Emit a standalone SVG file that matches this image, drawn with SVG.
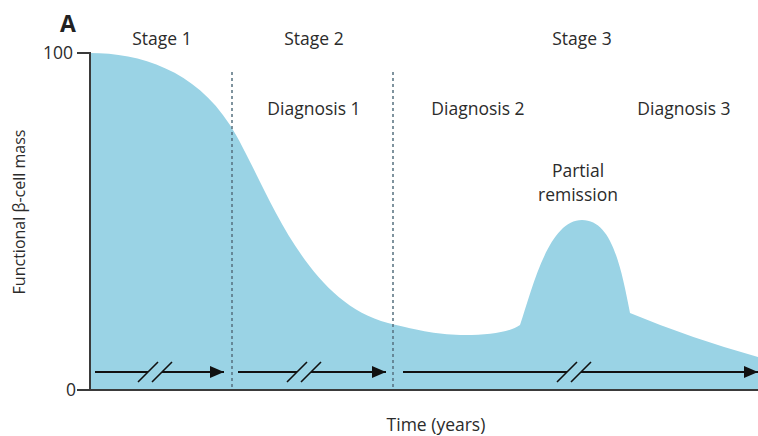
<svg xmlns="http://www.w3.org/2000/svg" width="758" height="436" viewBox="0 0 758 436">
<defs>
<style>
.t{font-family:"Open Sans","Noto Sans",sans-serif;font-size:17.5px;fill:#2b2b2b;text-anchor:middle}
.ax{stroke:#3a3a3a;stroke-width:2;fill:none}
.dash{stroke:#55707f;stroke-width:1.5;stroke-dasharray:3 3;fill:none}
.arr{stroke:#111;stroke-width:2;fill:none}
.brk{stroke:#111;stroke-width:1.6;fill:none}
</style>
<marker id="ah" viewBox="0 0 14 12" refX="14" refY="6" markerWidth="14" markerHeight="12" markerUnits="userSpaceOnUse" orient="auto">
<path d="M0,0 L14,6 L0,12 Z" fill="#111"/>
</marker>
</defs>
<rect width="758" height="436" fill="#fff"/>
<g id="area">
<path d="M90,53 C140,53 195,70 230,125 C265,180 300,300 388,323 C420,331 440,335 465,335 C490,335 510,332 520,325 C532,290 548,220 582,220 C610,220 620,260 630,313 Q690,338 758,357 L758,390 L90,390 Z" fill="#9ad3e5"/>
</g>
<g id="dividers">
<line class="dash" x1="232" y1="72" x2="232" y2="390"/>
<line class="dash" x1="393" y1="72" x2="393" y2="390"/>
</g>
<g id="axes">
<path class="ax" d="M77,53 H90 V390 H758"/>
<path class="ax" d="M77,390 H90"/>
</g>
<g id="connectors">
<path class="arr" d="M95,372 H148 M162,372 H224" marker-end="url(#ah)"/>
<path class="brk" d="M138,382 L158,362 M152,382 L172,362"/>
<path class="arr" d="M238,372 H297 M311,372 H386" marker-end="url(#ah)"/>
<path class="brk" d="M287,382 L307,362 M301,382 L321,362"/>
<path class="arr" d="M403,372 H567 M581,372 H758" marker-end="url(#ah)"/>
<path class="brk" d="M557,382 L577,362 M571,382 L591,362"/>
</g>
<g id="labels">
<text x="68" y="32" style="font-family:'Open Sans','Noto Sans',sans-serif;font-size:23px;font-weight:bold;fill:#222;text-anchor:middle">A</text>
<text class="t" x="73" y="59" style="text-anchor:end">100</text>
<text class="t" x="76" y="396" style="text-anchor:end">0</text>
<text class="t" x="162" y="45">Stage 1</text>
<text class="t" x="314" y="45">Stage 2</text>
<text class="t" x="582" y="45">Stage 3</text>
<text class="t" x="314" y="115">Diagnosis 1</text>
<text class="t" x="478" y="115">Diagnosis 2</text>
<text class="t" x="684" y="115">Diagnosis 3</text>
<text class="t" x="578" y="177">Partial</text>
<text class="t" x="578" y="201">remission</text>
<text class="t" x="436" y="431">Time (years)</text>
<text class="t" x="0" y="0" transform="translate(25,212) rotate(-90)" style="font-size:16px">Functional β-cell mass</text>
</g>
</svg>
